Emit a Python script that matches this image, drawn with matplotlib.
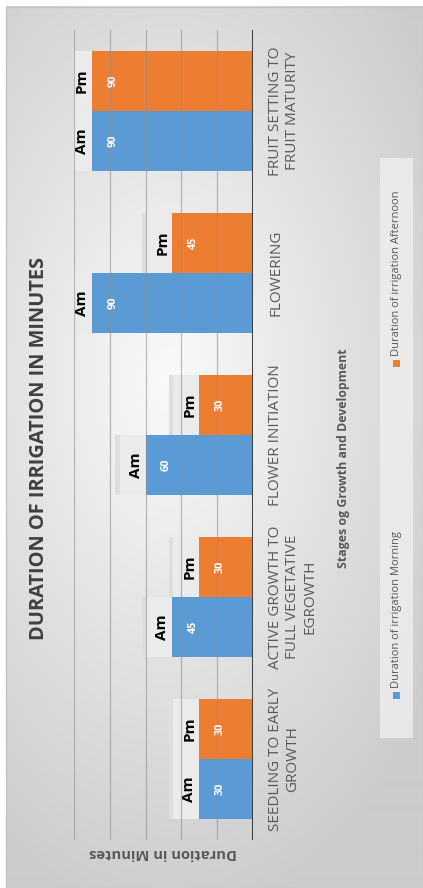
import numpy as np
import matplotlib
matplotlib.use("Agg")
import matplotlib.pyplot as plt
from matplotlib.patches import Rectangle

stages = ["SEEDLING TO EARLY\nGROWTH",
          "ACTIVE GROWTH TO\nFULL VEGETATIVE\nEGROWTH",
          "FLOWER INITIATION",
          "FLOWERING",
          "FRUIT SETTING TO\nFRUIT MATURITY"]
morning = [30, 45, 60, 90, 90]
afternoon = [30, 30, 30, 45, 90]
series_names = ["Duration of irrigation Morning", "Duration of irrigation Afternoon"]
short_names = ["Am", "Pm"]
value_ticks = [0, 20, 40, 60, 80, 100]

BLUE = "#5B9BD5"
ORANGE = "#ED7D31"
GREY = "#595959"

plt.rcParams['font.family'] = ['Open Sans', 'DejaVu Sans']

W, H = 423, 888
fig = plt.figure(figsize=(W / 100, H / 100), dpi=100)
fig.patch.set_facecolor("white")

# background panel with soft radial shading, pixel coordinates
bg = fig.add_axes([0, 0, 1, 1], zorder=-5)
yy, xx = np.mgrid[0:H, 0:W]
r = np.sqrt(((xx - 170) / 320.0) ** 2 + ((yy - 380) / 540.0) ** 2)
shade = np.clip(0.98 - 0.18 * r, 0.80, 0.98)
img = np.dstack([shade] * 3)
img[:7, :] = 1.0
img[:, :6] = 1.0
bg.imshow(img, extent=(0, W, H, 0), aspect="auto", interpolation="bilinear")
bg.add_patch(Rectangle((6, 7), W - 6, H - 7, fill=False, edgecolor="#c4c4c4", lw=1))
bg.set_xlim(0, W)
bg.set_ylim(H, 0)
bg.axis("off")

# plot area (chart is drawn turned a quarter turn)
ax = fig.add_axes([74 / W, 1 - 840 / H, 179 / W, 810 / H])
ax.patch.set_alpha(0)
pos = np.arange(len(stages))
bh = 0.37
groups = [(morning, pos - bh / 2, BLUE), (afternoon, pos + bh / 2, ORANGE)]
for vals, ys, col in groups:
    ax.barh(ys, vals, height=bh, color=col, zorder=2)

ax.set_xlim(value_ticks[-1], value_ticks[0])
ax.set_ylim(-0.5, len(stages) - 0.5)
for v in value_ticks[1:]:
    ax.axvline(v, color="#8f8f8f", lw=0.9, alpha=0.6, zorder=3)
ax.axvline(value_ticks[0], color="#404040", lw=2.2, zorder=4)

# labels: short series name outside the end with a shaded box, value inside
for (vals, ys, col), tag in zip(groups, short_names):
    for v, y in zip(vals, ys):
        ax.add_patch(Rectangle((v, y - bh / 2), 17, bh, facecolor="#ebebeb",
                               edgecolor="none", zorder=1))
        ax.add_patch(Rectangle((v + 14.5, y - bh / 2), 2.5, bh, facecolor="#dedede",
                               edgecolor="none", zorder=1))
        ax.annotate(tag, (v, y), xytext=(-3, 0), textcoords="offset pixels",
                    rotation=90, ha="right", va="center", fontsize=11,
                    fontweight="bold", color="black", zorder=5)
        ax.annotate(str(v), (v, y), xytext=(21, 0), textcoords="offset pixels",
                    rotation=90, ha="center", va="center", fontsize=7.8,
                    fontweight="bold", color="white", zorder=5)

for s in ax.spines.values():
    s.set_visible(False)
ax.set_xticks([])
ax.yaxis.tick_right()
ax.set_yticks(pos)
ax.set_yticklabels(stages, rotation=90, ha="left", va="center",
                   multialignment="center", color=GREY, fontsize=11)
ax.tick_params(axis="y", length=0, pad=11)

# titles
bg.text(39, 448, "DURATION OF IRRIGATION IN MINUTES", rotation=90, ha="center",
        va="center", fontsize=14.4, fontweight="bold", color="#404040")
bg.text(343, 458, "Stages og Growth and Development", rotation=90, ha="center",
        va="center", fontsize=8.9, fontweight="bold", color=GREY)
bg.text(163, 853, "Duration in Minutes", rotation=180, ha="center",
        va="center", fontsize=10.6, fontweight="bold", color=GREY)

# legend
bg.add_patch(Rectangle((380, 158), 33, 580, facecolor="#efefef", edgecolor="none", alpha=0.8))
for name, col, ymark in zip(series_names, [BLUE, ORANGE], [695, 363]):
    bg.add_patch(Rectangle((392.5, ymark - 3.5), 7, 7, facecolor=col, edgecolor="none"))
    bg.text(397, ymark - 7, name, rotation=90, ha="center", va="bottom",
            fontsize=8, color=GREY)

fig.savefig("out.png", dpi=100)
